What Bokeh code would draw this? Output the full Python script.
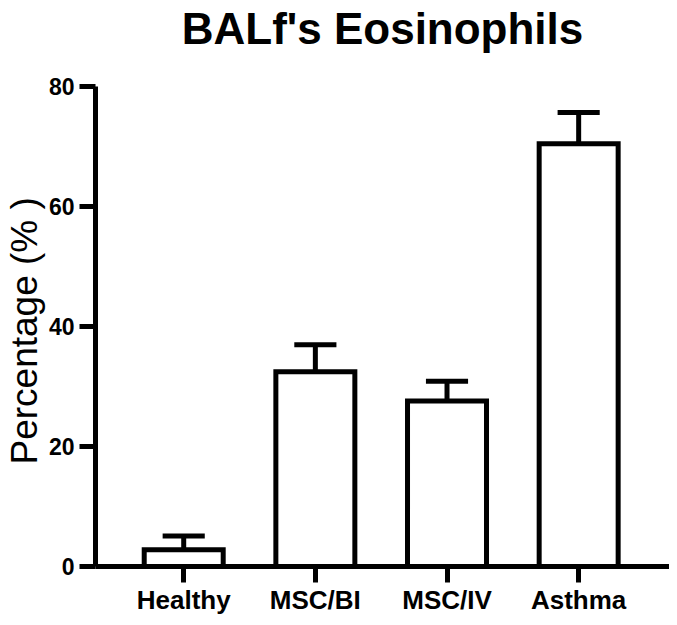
from bokeh.plotting import figure
from bokeh.models import Range1d, FixedTicker, Label, Title
from bokeh.embed import file_html
from bokeh.resources import INLINE

categories = ["Healthy", "MSC/BI", "MSC/IV", "Asthma"]
means = [2.8, 32.5, 27.6, 70.5]
errors = [2.3, 4.5, 3.3, 5.2]
y_ticks = [0, 20, 40, 60, 80]
title_text = "BALf's Eosinophils"
y_label = "Percentage (% )"

xs = list(range(1, len(categories) + 1))
tops = [m + e for m, e in zip(means, errors)]
bar_w = 0.6
cap_half = 0.16
x_lo, x_hi = 0.33, 4.69
y_top = 94.4

p = figure(width=669, height=617, output_backend="svg", toolbar_location=None,
           x_range=Range1d(x_lo, x_hi), y_range=Range1d(0, y_top),
           min_border_left=89, min_border_right=0, min_border_top=0, min_border_bottom=0)

# error bars (upper only)
p.segment(x0=xs, y0=means, x1=xs, y1=tops, line_color="black", line_width=5)
p.segment(x0=[x - cap_half for x in xs], y0=tops, x1=[x + cap_half for x in xs], y1=tops,
          line_color="black", line_width=5)
# bars
p.vbar(x=xs, top=means, bottom=0, width=bar_w, fill_color="white",
       line_color="black", line_width=5, line_join="miter")

title = Label(x=(x_lo + x_hi) / 2, y=89.8, text=title_text,
              text_font="Liberation Sans", text_font_size="44px", text_font_style="bold",
              text_color="black", text_align="center", text_baseline="alphabetic")
p.add_layout(title)

ylab = Title(text=y_label, align="left", offset=102, standoff=2,
             text_font="Liberation Sans", text_font_size="37px", text_font_style="normal",
             text_color="black")
p.add_layout(ylab, "left")

p.xgrid.visible = False
p.ygrid.visible = False
p.outline_line_color = None
p.background_fill_color = "white"
p.border_fill_color = "white"

for ax in (p.xaxis[0], p.yaxis[0]):
    ax.axis_line_width = 5
    ax.axis_line_color = "black"
    ax.major_tick_line_width = 5
    ax.major_tick_line_color = "black"
    ax.major_tick_out = 16
    ax.major_tick_in = 0
    ax.minor_tick_line_color = None
    ax.major_label_text_font = "Liberation Sans"
    ax.major_label_text_font_style = "bold"
    ax.major_label_text_color = "black"

p.xaxis.ticker = FixedTicker(ticks=xs)
p.xaxis.major_label_overrides = {x: c for x, c in zip(xs, categories)}
p.xaxis.major_label_text_font_size = "26px"
p.xaxis.major_label_standoff = 2

p.yaxis.bounds = (y_ticks[0], y_ticks[-1])
p.yaxis.ticker = FixedTicker(ticks=y_ticks)
p.yaxis.major_label_text_font_size = "23px"
p.yaxis.major_label_standoff = 5

open("out.html", "w").write(file_html(p, INLINE))
